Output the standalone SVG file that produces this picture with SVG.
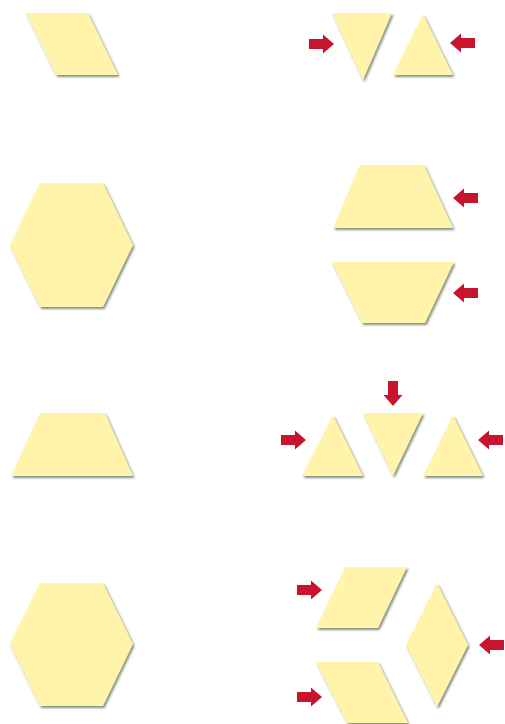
<svg xmlns="http://www.w3.org/2000/svg" xmlns:xlink="http://www.w3.org/1999/xlink" width="505" height="724" viewBox="0 0 505 724">
<defs>
<style>
.tile{fill:#FFF4AA;filter:url(#sh);}
.arr{fill:#C8142F;}
</style>
<filter id="sh" x="-10%" y="-10%" width="130%" height="130%">
<feDropShadow dx="1.5" dy="2" stdDeviation="0.9" flood-color="#6c7c68" flood-opacity="0.85"/>
</filter>
<path id="arrow" d="M-25,-5 L-11,-5 L-11,-9.5 L0,0 L-11,9.5 L-11,5 L-25,5 Z"/>
</defs>
<rect width="505" height="724" fill="#ffffff"/>
<g id="parallelogram-1"><polygon class="tile" points="26,13 88,13 118,75 56,75"/></g>
<g id="triangle-down-1"><polygon class="tile" points="332,13 392,13 363,80"/></g>
<g id="triangle-up-1"><polygon class="tile" points="423,14 453,75 393,75"/></g>
<g id="hexagon-1"><polygon class="tile" points="40,183 103,183 133,245 103,307 40,307 10,245"/></g>
<g id="trapezoid-up-2"><polygon class="tile" points="360,165 424,165 453,228 333,228"/></g>
<g id="trapezoid-down-2"><polygon class="tile" points="332,262 454,262 425,323 362,323"/></g>
<g id="trapezoid-3"><polygon class="tile" points="40,413 105,413 133,476 11,476"/></g>
<g id="triangle-up-3a"><polygon class="tile" points="333,415 363,476 302,476"/></g>
<g id="triangle-down-3"><polygon class="tile" points="363,413 423,413 393,476"/></g>
<g id="triangle-up-3b"><polygon class="tile" points="453,415 483,476 423,476"/></g>
<g id="hexagon-4"><polygon class="tile" points="40,583 103,583 133,644 103,706 40,706 10,644"/></g>
<g id="parallelogram-4a"><polygon class="tile" points="345,567 407,567 378,628 316,628"/></g>
<g id="parallelogram-4b"><polygon class="tile" points="316,662 378,662 408,723 347,723"/></g>
<g id="rhombus-4"><polygon class="tile" points="437,583 468,645 437,707 406,645"/></g>
<g id="arrows" class="arr">
<use xlink:href="#arrow" transform="translate(334,44)"/>
<use xlink:href="#arrow" transform="translate(450,43) rotate(180)"/>
<use xlink:href="#arrow" transform="translate(453,198) rotate(180)"/>
<use xlink:href="#arrow" transform="translate(453,293) rotate(180)"/>
<use xlink:href="#arrow" transform="translate(393,406) rotate(90)"/>
<use xlink:href="#arrow" transform="translate(306,440)"/>
<use xlink:href="#arrow" transform="translate(478,440) rotate(180)"/>
<use xlink:href="#arrow" transform="translate(322,590)"/>
<use xlink:href="#arrow" transform="translate(322,697)"/>
<use xlink:href="#arrow" transform="translate(479,645) rotate(180)"/>
</g>
</svg>
